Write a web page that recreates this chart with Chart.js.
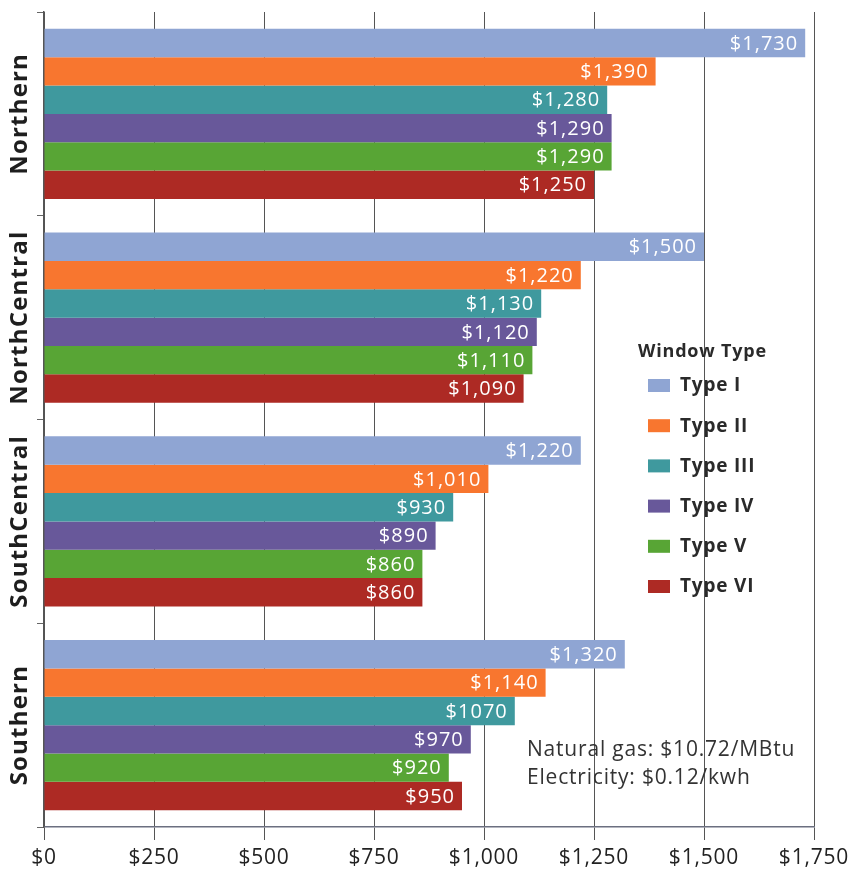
<!DOCTYPE html>
<html>
<head>
<meta charset="utf-8">
<script src="https://cdn.jsdelivr.net/npm/chart.js@4.4.1/dist/chart.umd.min.js"></script>
<style>
  html, body { margin: 0; padding: 0; background: #fff; }
  #wrap { width: 851px; height: 871px; position: relative; }
</style>
</head>
<body>
<div id="wrap"><canvas id="chart"></canvas></div>
<script>
// data
const regions = ['Northern', 'NorthCentral', 'SouthCentral', 'Southern'];
const typeNames = ['Type I', 'Type II', 'Type III', 'Type IV', 'Type V', 'Type VI'];
const typeI = [1730, 1500, 1220, 1320];
const typeII = [1390, 1220, 1010, 1140];
const typeIII = [1280, 1130, 930, 1070];
const typeIV = [1290, 1120, 890, 970];
const typeV = [1290, 1110, 860, 920];
const typeVI = [1250, 1090, 860, 950];
const tickValues = [0, 250, 500, 750, 1000, 1250, 1500, 1750];
const notes = ['Natural gas: $10.72/MBtu', 'Electricity: $0.12/kwh'];
// the one label printed without a comma in the original
const labelOverrides = { '2-3': '$1070' };

const colors = ['#8fa5d3', '#f8762f', '#3f999e', '#68589a', '#58a535', '#ad2a24'];
const FONT = '"Open Sans", sans-serif';

function money(v) {
    return '$' + v.toLocaleString('en-US');
}

const series = [typeI, typeII, typeIII, typeIV, typeV, typeVI];

// the original face is a wide geometric sans, so open the tracking a bit
const spacing = {
    id: 'spacing',
    beforeDraw(chart) { chart.ctx.letterSpacing = '0.8px'; }
};

const valueLabels = {
    id: 'valueLabels',
    afterDatasetsDraw(chart) {
        const ctx = chart.ctx;
        ctx.save();
        ctx.letterSpacing = '1px';
        ctx.font = '20px ' + FONT;
        ctx.fillStyle = '#fff';
        ctx.textAlign = 'right';
        ctx.textBaseline = 'middle';
        chart.data.datasets.forEach((ds, i) => {
            chart.getDatasetMeta(i).data.forEach((bar, j) => {
                const txt = labelOverrides[i + '-' + j] || money(ds.data[j]);
                ctx.fillText(txt, bar.x - 7, bar.y + 1);
            });
        });
        ctx.restore();
    }
};

const extras = {
    id: 'extras',
    afterDraw(chart) {
        const ctx = chart.ctx;
        const y = chart.scales.y;
        ctx.save();

        // rotated region names
        ctx.letterSpacing = '1.2px';
        ctx.font = 'bold 24px ' + FONT;
        ctx.fillStyle = '#1e1e1e';
        ctx.textAlign = 'center';
        ctx.textBaseline = 'middle';
        regions.forEach((r, i) => {
            ctx.save();
            ctx.translate(20, y.getPixelForValue(i));
            ctx.rotate(-Math.PI / 2);
            ctx.fillText(r, 0, 0);
            ctx.restore();
        });

        // legend
        ctx.letterSpacing = '0.8px';
        ctx.textAlign = 'left';
        ctx.font = 'bold 18px ' + FONT;
        ctx.fillStyle = '#2a2a2a';
        ctx.fillText('Window Type', 638, 352);
        ctx.font = 'bold 19px ' + FONT;
        chart.data.datasets.forEach((ds, i) => {
            const ly = 385 + i * 40.2;
            ctx.fillStyle = ds.backgroundColor;
            ctx.fillRect(648, ly - 6, 22, 13);
            ctx.fillStyle = '#2a2a2a';
            ctx.fillText(ds.label, 680, ly + 1);
        });

        // footnote
        ctx.letterSpacing = '0.8px';
        ctx.font = '21px ' + FONT;
        ctx.fillStyle = '#333';
        notes.forEach((n, i) => ctx.fillText(n, 527, 750 + i * 28));

        ctx.restore();
    }
};

new Chart(document.getElementById('chart'), {
    type: 'bar',
    data: {
        labels: regions,
        datasets: typeNames.map((name, i) => ({
            label: name,
            data: series[i],
            backgroundColor: colors[i],
            borderWidth: 0,
            barPercentage: 1,
            categoryPercentage: 0.835
        }))
    },
    options: {
        indexAxis: 'y',
        responsive: true,
        maintainAspectRatio: false,
        animation: false,
        layout: { padding: { top: 12, right: 37, bottom: 0, left: 0 } },
        plugins: {
            legend: { display: false },
            tooltip: { enabled: false }
        },
        scales: {
            x: {
                min: 0,
                max: 1750,
                afterBuildTicks: scale => {
                    scale.ticks = tickValues.map(v => ({ value: v }));
                },
                afterFit: scale => {
                    scale.height = 44;
                    scale.paddingRight = 0;
                    scale.paddingLeft = 0;
                },
                ticks: {
                    callback: v => money(v),
                    font: { family: FONT, size: 21 },
                    color: '#222',
                    padding: 5,
                    maxRotation: 0
                },
                grid: {
                    color: '#555',
                    lineWidth: 1,
                    tickLength: 13
                },
                border: { color: '#6b6f80', width: 1.5 }
            },
            y: {
                ticks: { display: false },
                grid: {
                    drawOnChartArea: false,
                    tickLength: 7,
                    color: '#666'
                },
                border: { color: '#555', width: 1.5 },
                afterFit: scale => { scale.width = 44; }
            }
        }
    },
    plugins: [spacing, valueLabels, extras]
});
</script>
</body>
</html>
